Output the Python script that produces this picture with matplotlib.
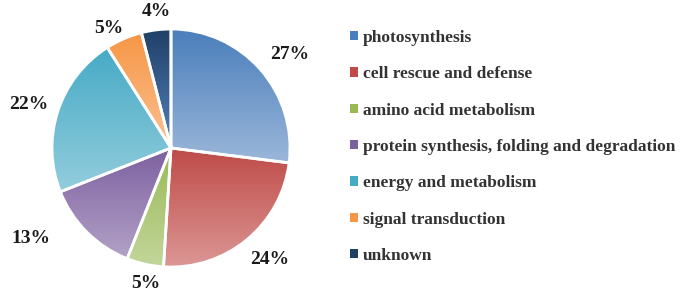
import numpy as np
import matplotlib.pyplot as plt
from matplotlib.patches import Patch
from matplotlib.colors import LinearSegmentedColormap

# Data
categories = ['photosynthesis', 'cell rescue and defense', 'amino acid metabolism',
              'protein synthesis, folding and degradation', 'energy and metabolism',
              'signal transduction', 'unknown']
values = [27, 24, 5, 13, 22, 5, 4]

# gradient colours, top (dark) and bottom (light)
top_colors = ['#4a7ebb', '#be4b48', '#98b954', '#7d60a0', '#46aac5', '#f79646', '#1f3f66']
bottom_colors = ['#9bb7da', '#dc9896', '#c3d69b', '#b3a2c7', '#93cddd', '#fac090', '#5583bd']

# label placement tweaks (distance factor, angle offset in degrees)
label_dist = [1.27, 1.25, 1.16, 1.40, 1.25, 1.13, 1.15]
label_shift = [-3, 2, 2, -12, 1, 4, -1]

plt.rcParams['font.family'] = ['Liberation Serif', 'DejaVu Serif']
plt.rcParams['font.weight'] = 'bold'

fig = plt.figure(figsize=(6.8, 2.93), dpi=100)
r_px = 119
cx, cy = 171, 145
ax = fig.add_axes([(cx - 1.4 * r_px) / 680, (cy - 1.2 * r_px) / 293,
                   2.8 * r_px / 680, 2.4 * r_px / 293])

wedges, _ = ax.pie(values, startangle=90, counterclock=False, radius=1,
                   colors=top_colors,
                   wedgeprops=dict(edgecolor='white', linewidth=2))

ax.set_aspect('equal')
ax.axis('off')

# fill each wedge with a vertical gradient, dark at top
for w, c0, c1 in zip(wedges, top_colors, bottom_colors):
    w.set_facecolor('none')
    verts = w.get_path().vertices
    x0, x1 = verts[:, 0].min(), verts[:, 0].max()
    y0, y1 = verts[:, 1].min(), verts[:, 1].max()
    cmap = LinearSegmentedColormap.from_list('g', [c0, c1])
    grad = np.linspace(0, 1, 256).reshape(-1, 1)
    im = ax.imshow(grad, cmap=cmap, extent=[x0, x1, y0, y1], origin='upper',
                   aspect='auto', zorder=1)
    im.set_clip_path(w)
    w.set_zorder(2)

ax.set_xlim(-1.4, 1.4)
ax.set_ylim(-1.2, 1.2)

# percentage labels
for w, v, d, s in zip(wedges, values, label_dist, label_shift):
    ang = np.deg2rad((w.theta1 + w.theta2) / 2 + s)
    ax.text(d * np.cos(ang), d * np.sin(ang), f'{v}%', ha='center', va='center',
            fontsize=14, fontweight='bold', color='#1a1a1a', clip_on=False)

handles = [Patch(facecolor=c, edgecolor='none') for c in top_colors]
leg = fig.legend(handles, categories, loc='upper left', bbox_to_anchor=(350 / 680, 1 - 30 / 293),
                 frameon=False, fontsize=12.5, handlelength=0.45, handleheight=0.45,
                 handletextpad=0.3, labelspacing=1.17, borderaxespad=0, borderpad=0)
for t in leg.get_texts():
    t.set_color('#333333')
    t.set_fontweight('bold')

fig.savefig('out.png', dpi=100)
